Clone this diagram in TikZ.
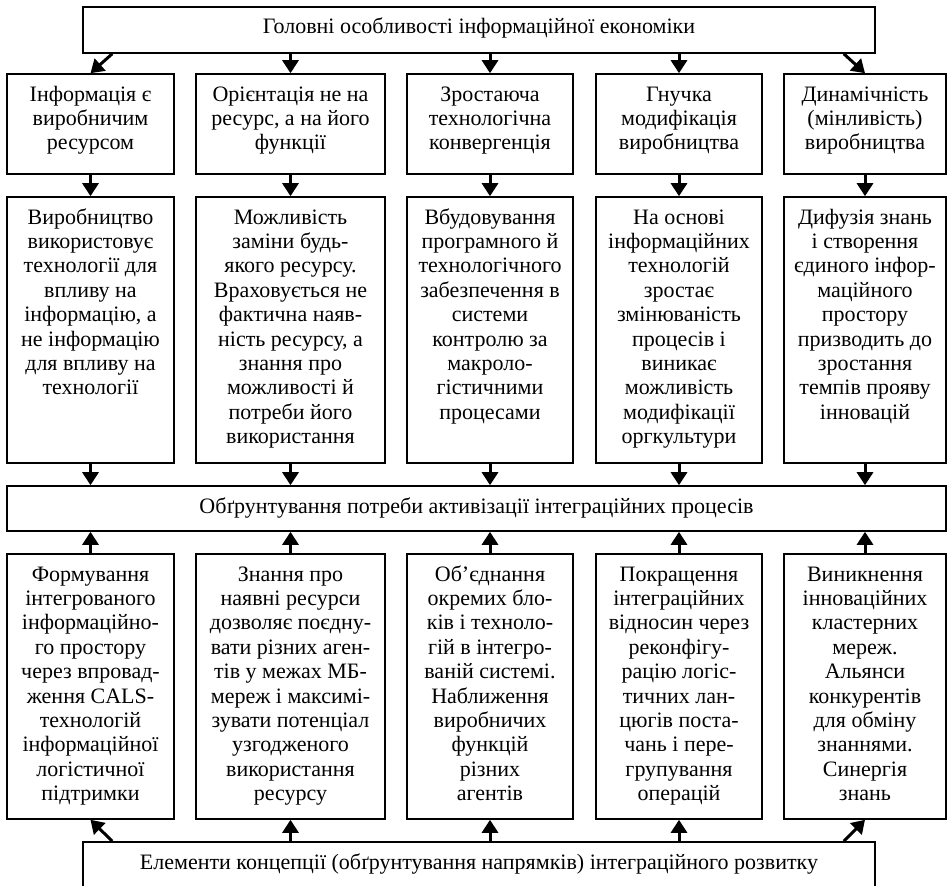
\documentclass[tikz,border=0pt]{standalone}
\usepackage{fontspec}
\setmainfont{Liberation Serif}
\usetikzlibrary{arrows.meta}
\newcommand\bxt[3]{\parbox[c][#2][t]{#1}{\centering\rule{0pt}{27pt}#3}}
\begin{document}
\begin{tikzpicture}[x=1pt,y=-1pt,
  box/.style={draw, line width=1.6pt, inner sep=0pt, font=\fontsize{22}{24.4}\selectfont},
  arr/.style={line width=3pt, -{Triangle[length=13pt,width=16pt]}}
]
\useasboundingbox (0,0) rectangle (948,886);
\clip (0,0) rectangle (948,886);
% top
\node[box] (top) at (479,30) {\bxt{792pt}{46pt}{Головні особливості інформаційної економіки}};
% row 1
\node[box] (r1a) at (90.5,124) {\bxt{167pt}{100pt}{Інформація є\\виробничим\\ресурсом}};
\node[box] (r1b) at (290.5,124) {\bxt{189pt}{100pt}{Орієнтація не на\\ресурс, а на його\\функції}};
\node[box] (r1c) at (490,124) {\bxt{166pt}{100pt}{Зростаюча\\технологічна\\конвергенція}};
\node[box] (r1d) at (679,124) {\bxt{166pt}{100pt}{Гнучка\\модифікація\\виробництва}};
\node[box] (r1e) at (865,124) {\bxt{162pt}{100pt}{Динамічність\\(мінливість)\\виробництва}};
% row 2
\node[box] (r2a) at (90.5,330) {\bxt{167pt}{266pt}{Виробництво\\використовує\\технології для\\впливу на\\інформацію, а\\не інформацію\\для впливу на\\технології}};
\node[box] (r2b) at (290.5,330) {\bxt{189pt}{266pt}{Можливість\\заміни будь-\\якого ресурсу.\\Враховується не\\фактична наяв-\\ність ресурсу, а\\знання про\\можливості й\\потреби його\\використання}};
\node[box] (r2c) at (490,330) {\bxt{166pt}{266pt}{Вбудовування\\програмного й\\технологічного\\забезпечення в\\системи\\контролю за\\макроло-\\гістичними\\процесами}};
\node[box] (r2d) at (679,330) {\bxt{166pt}{266pt}{На основі\\інформаційних\\технологій\\зростає\\змінюваність\\процесів і\\виникає\\можливість\\модифікації\\оргкультури}};
\node[box] (r2e) at (865,330) {\bxt{162pt}{266pt}{Дифузія знань\\і створення\\єдиного інфор-\\маційного\\простору\\призводить до\\зростання\\темпів прояву\\інновацій}};
% middle
\node[box] (mid) at (476.5,508.5) {\bxt{939pt}{45pt}{Обґрунтування потреби активізації інтеграційних процесів}};
% row 3
\node[box] (r3a) at (90.5,686.5) {\bxt{167pt}{265pt}{Формування\\інтегрованого\\інформаційно-\\го простору\\через впровад-\\ження CALS-\\технологій\\інформаційної\\логістичної\\підтримки}};
\node[box] (r3b) at (290.5,686.5) {\bxt{189pt}{265pt}{Знання про\\наявні ресурси\\дозволяє поєдну-\\вати різних аген-\\тів у межах МБ-\\мереж і максимі-\\зувати потенціал\\узгодженого\\використання\\ресурсу}};
\node[box] (r3c) at (490,686.5) {\bxt{166pt}{265pt}{Об'єднання\\окремих бло-\\ків і техноло-\\гій в інтегро-\\ваній системі.\\Наближення\\виробничих\\функцій\\різних\\агентів}};
\node[box] (r3d) at (679,686.5) {\bxt{166pt}{265pt}{Покращення\\інтеграційних\\відносин через\\реконфігу-\\рацію логіс-\\тичних лан-\\цюгів поста-\\чань і пере-\\групування\\операцій}};
\node[box] (r3e) at (865,686.5) {\bxt{162pt}{265pt}{Виникнення\\інноваційних\\кластерних\\мереж.\\Альянси\\конкурентів\\для обміну\\знаннями.\\Синергія\\знань}};
% bottom
\node[box] (bot) at (479,870) {\bxt{792pt}{56pt}{Елементи концепції (обґрунтування напрямків) інтеграційного розвитку}};
% arrows top -> row1
\draw[arr] ([xshift=30pt]top.south west) -- (r1a.north);
\draw[arr] (r1b.north |- top.south) -- (r1b.north);
\draw[arr] (r1c.north |- top.south) -- (r1c.north);
\draw[arr] (r1d.north |- top.south) -- (r1d.north);
\draw[arr] ([xshift=-32pt]top.south east) -- (r1e.north);
% row1 -> row2
\foreach \c in {a,b,c,d,e}{\draw[arr] (r1\c.south) -- (r2\c.north);}
% row2 -> mid
\foreach \c in {a,b,c,d,e}{\draw[arr] (r2\c.south) -- (r2\c.south |- mid.north);}
% row3 -> mid
\foreach \c in {a,b,c,d,e}{\draw[arr] (r3\c.north) -- (r3\c.north |- mid.south);}
% bottom -> row3
\draw[arr] ([xshift=30pt]bot.north west) -- (r3a.south);
\draw[arr] (r3b.south |- bot.north) -- (r3b.south);
\draw[arr] (r3c.south |- bot.north) -- (r3c.south);
\draw[arr] (r3d.south |- bot.north) -- (r3d.south);
\draw[arr] ([xshift=-32pt]bot.north east) -- (r3e.south);
\end{tikzpicture}
\end{document}
